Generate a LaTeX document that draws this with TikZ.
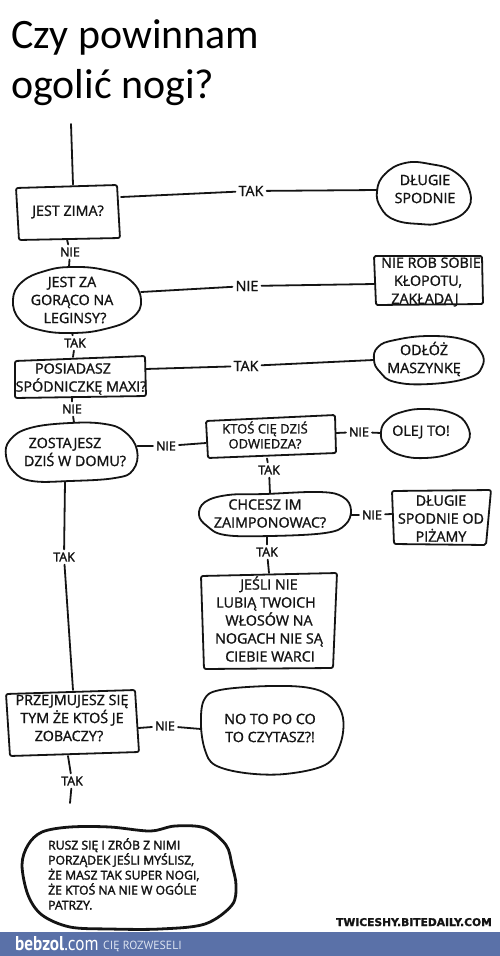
\documentclass[tikz,border=0pt]{standalone}
\usepackage{fontspec}
\setmainfont{Open Sans}
\newfontfamily\titlefont{Carlito}
\newfontfamily\heavyfont[FakeBold=1.3]{Open Sans}
\newfontfamily\heavierfont[FakeBold=2.2]{Open Sans}
\newfontfamily\wmfont[FakeBold=1.5]{DejaVu Sans}
\newfontfamily\barfont[FakeStretch=0.86]{PT Sans}
\newfontfamily\barplain{PT Sans}
\definecolor{ink}{HTML}{141414}
\definecolor{barblue}{HTML}{5A71A8}
\definecolor{barpale}{HTML}{DCE3F0}
\tikzset{
  x=1pt,y=-1pt,
  ink line/.style={draw=ink,line width=1.8pt,line cap=round,line join=round},
  outline/.style={ink line},
  blob/.style={ink line,line width=2.8pt},
  shapebox/.style={rectangle,inner sep=0pt,outer sep=0pt},
  txt/.style={text=ink,align=center,inner sep=0pt,font=\heavyfont\fontsize{14.3}{18}\selectfont},
  lbl/.style={text=ink,inner sep=3pt,font=\heavierfont\fontsize{12.4}{14}\selectfont},
  lblbig/.style={text=ink,inner sep=3pt,font=\heavyfont\fontsize{14.3}{14}\selectfont},
  small/.style={text=ink,align=left,inner sep=0pt,anchor=north west,font=\heavierfont\fontsize{12.2}{15}\selectfont},
  titletxt/.style={anchor=base west,inner sep=0pt,text=black,font=\titlefont\fontsize{41.9}{50}\selectfont},
}
\newcommand{\boxat}[5]{\node[shapebox,minimum width=#4pt,minimum height=#5pt] (#1) at (#2,#3) {};}
\begin{document}
\begin{tikzpicture}
\useasboundingbox (0,0) rectangle (500,956);
\fill[white] (0,0) rectangle (500,956);
% title
\node[titletxt] (t1) at (11,48) {Czy powinnam};
\node[titletxt] (t2) at (11,98) {ogolić nogi?};
% invisible anchors of the hand-drawn shapes
\boxat{zima}{69}{212}{104}{55}
\boxat{dlugie}{424}{193}{93}{61}
\boxat{goraco}{77}{300}{128}{66}
\boxat{klopot}{429}{280}{109}{49}
\boxat{maxi}{80}{377}{131}{42}
\boxat{odloz}{428}{360}{109}{48}
\boxat{dom}{72}{452}{131}{59}
\boxat{ktos}{271}{437}{130}{43}
\boxat{olej}{425}{433}{88}{49}
\boxat{chcesz}{275}{515}{152}{43}
\boxat{pizamy}{441}{517}{99}{55}
\boxat{warci}{269}{621}{136}{96}
\boxat{przej}{72}{723}{133}{66}
\boxat{czytasz}{272}{730}{142}{88}
\boxat{rusz}{129}{877}{214}{104}
\coordinate (start) at (71,124);
\coordinate (tailend) at (70,803);
% outlines
\draw[outline,rounded corners=2pt] (16,188)--(117,185)--(120,238)--(19,240)--cycle;
\draw[outline] plot[smooth cycle,tension=.75] coordinates {(405,163)(430,164)(455,172)(470,192)(465,212)(440,223)(420,224)(395,220)(381,208)(377,191)(385,174)};
\draw[outline] plot[smooth cycle,tension=.75] coordinates {(72,267)(105,270)(130,280)(141,300)(132,318)(105,329)(72,333)(40,330)(20,320)(13,300)(22,282)(45,271)};
\draw[outline,rounded corners=1.5pt] (374,256)--(482,256)--(483,304)--(376,305)--cycle;
\draw[outline,rounded corners=2pt] (15,361)--(145,356)--(146,396)--(15,398)--cycle;
\draw[outline] plot[smooth cycle,tension=.75] coordinates {(430,336)(465,340)(481,352)(482,367)(468,378)(430,384)(395,382)(380,372)(374,360)(378,347)(395,340)};
\draw[outline] plot[smooth cycle,tension=.7] coordinates {(70,423)(105,424)(125,432)(137,450)(133,470)(115,478)(70,481)(32,481)(14,472)(6,456)(10,440)(30,428)};
\draw[outline,rounded corners=1.5pt] (206,421)--(335,415)--(336,453)--(208,458)--cycle;
\draw[outline] plot[smooth cycle,tension=.75] coordinates {(425,409)(452,413)(467,425)(468,442)(452,453)(425,458)(400,455)(385,445)(381,432)(387,420)(402,412)};
\draw[outline] plot[smooth cycle,tension=.65] coordinates {(265,494)(320,492)(343,497)(351,510)(345,525)(325,533)(270,536)(225,535)(207,526)(199,515)(205,502)(228,495)};
\draw[outline,rounded corners=2pt] (392,491)--(491,490)--(486,545)--(394,544)--cycle;
\draw[outline,rounded corners=2pt] (201,576)--(337,573)--(333,668)--(204,669)--cycle;
\draw[outline,rounded corners=2pt] (6,694)--(135,690)--(139,752)--(10,756)--cycle;
\draw[outline] plot[smooth cycle,tension=.6] coordinates {(270,686)(310,688)(332,698)(343,718)(340,745)(325,765)(285,774)(245,773)(215,765)(205,750)(201,725)(204,700)(220,690)};
\draw[blob] plot[smooth cycle,tension=.55] coordinates {(70,827)(110,827)(150,831)(175,826)(205,828)(226,845)(232,865)(236,885)(232,905)(205,924)(160,929)(110,929)(70,927)(42,915)(28,895)(22,865)(28,845)(42,832)};
% labels
\node[lblbig] (l1) at (251,191) {TAK};
\node[lbl] (l2) at (70,252) {NIE};
\node[lblbig] (l3) at (247,286) {NIE};
\node[lbl] (l4) at (75,343) {TAK};
\node[lblbig] (l5) at (246,366) {TAK};
\node[lbl] (l6) at (72,409) {NIE};
\node[lbl] (l7) at (166,446) {NIE};
\node[lbl] (l8) at (359,432) {NIE};
\node[lbl] (l9) at (269,470) {TAK};
\node[lbl] (l10) at (372,515) {NIE};
\node[lbl] (l11) at (267,552) {TAK};
\node[lbl] (l12) at (64,557) {TAK};
\node[lbl] (l13) at (165,726) {NIE};
\node[lbl] (l14) at (72,781) {TAK};
% connectors
\draw[ink line] (start) -- ([xshift=4pt]zima.north);
\draw[ink line] ([yshift=15pt]zima.east) -- (l1); \draw[ink line] (l1) -- ([yshift=3pt]dlugie.west);
\draw[ink line] ([xshift=-2pt]zima.south) -- (l2); \draw[ink line] (l2) -- ([xshift=-8pt]goraco.north);
\draw[ink line] ([yshift=8pt]goraco.east) -- (l3); \draw[ink line] (l3) -- ([yshift=-4pt]klopot.west);
\draw[ink line] ([xshift=-5pt]goraco.south) -- (l4); \draw[ink line] (l4) -- ([xshift=-7pt,yshift=-1pt]maxi.north);
\draw[ink line] ([yshift=8pt]maxi.east) -- (l5); \draw[ink line] (l5) -- (odloz.west);
\draw[ink line] ([xshift=-8pt]maxi.south) -- (l6); \draw[ink line] (l6) -- ([xshift=2pt]dom.north);
\draw[ink line] ([yshift=6pt]dom.east) -- (l7); \draw[ink line] (l7) -- ([yshift=-6pt]ktos.west);
\draw[ink line] ([yshift=4pt]ktos.east) -- (l8); \draw[ink line] (l8) -- (olej.west);
\draw[ink line] ([xshift=-4pt]ktos.south) -- (l9); \draw[ink line] (l9) -- ([xshift=-5pt]chcesz.north);
\draw[ink line] (chcesz.east) -- (l10); \draw[ink line] (l10) -- ([yshift=3pt]pizamy.west);
\draw[ink line] ([xshift=-8pt]chcesz.south) -- (l11); \draw[ink line] (l11) -- (warci.north);
\draw[ink line] ([xshift=-7pt]dom.south) -- (l12); \draw[ink line] (l12) -- ([xshift=1pt]przej.north);
\draw[ink line] ([yshift=-5pt]przej.east) -- (l13); \draw[ink line] (l13) -- ([yshift=1pt]czytasz.west);
\draw[ink line] ([xshift=-4pt]przej.south) -- (l14); \draw[ink line] (l14) -- (tailend);
% texts
\node[txt] (tzima) at (68,212) {JEST ZIMA?};
\node[txt] (tdlugie) at (425,189) {DŁUGIE\\SPODNIE};
\node[txt] (tgoraco) at (72,300) {JEST ZA\\GORĄCO NA\\\hspace*{6pt}LEGINSY?};
\node[txt] (tklopot) at (428,282) {\hspace*{6pt}NIE ROB SOBIE\\KŁOPOTU,\\\hspace*{-6pt}ZAKŁADAJ};
\node[txt] (tmaxi) at (81,379) {\hspace*{-16pt}POSIADASZ\\SPÓDNICZKĘ MAXI?};
\node[txt] (todloz) at (424,359) {ODŁÓŻ\\MASZYNKĘ};
\node[txt] (tdom) at (75,452) {\hspace*{-20pt}ZOSTAJESZ\\DZIŚ W DOMU?};
\node[txt,font=\heavyfont\fontsize{13}{15}\selectfont] (tktos) at (265,435) {KTOŚ CIĘ DZIŚ\\ODWIEDZA?};
\node[txt] (tolej) at (421,432) {OLEJ TO!};
\node[txt] (tchcesz) at (270,513.5) {\hspace*{-10pt}CHCESZ IM\\ZAIMPONOWAC?};
\node[txt] (tpizamy) at (441,518.5) {DŁUGIE\\SPODNIE OD\\PIŻAMY};
\node[txt] (twarci) at (269,619) {JEŚLI NIE\\\hspace*{-6pt}LUBIĄ TWOICH\\WŁOSÓW NA\\NOGACH NIE SĄ\\\hspace*{2pt}CIEBIE WARCI};
\node[txt] (tprzej) at (72,718) {PRZEJMUJESZ SIĘ\\TYM ŻE KTOŚ JE\\\hspace*{-6pt}ZOBACZY?};
\node[txt] (tczytasz) at (270,728) {NO TO PO CO\\TO CZYTASZ?!};
\node[small] (trusz) at (48,838) {RUSZ SIĘ I ZRÓB Z NIMI\\PORZĄDEK JEŚLI MYŚLISZ,\\ŻE MASZ TAK SUPER NOGI,\\ŻE KTOŚ NA NIE W OGÓLE\\PATRZY.};
\node[anchor=base east,inner sep=0pt,text=ink,font=\wmfont\fontsize{10.7}{12}\selectfont\bfseries] (wm) at (492,926) {TWICESHY.BITEDAILY.COM};
% bottom bar
\fill[barblue] (0,932) rectangle (500,956);
\node[anchor=base west,inner sep=0pt,text=white,font=\barfont\fontsize{20}{24}\selectfont] (bz) at (15,950) {\textbf{bebzol}.com};
\node[anchor=base west,inner sep=0pt,text=barpale,font=\barplain\fontsize{11.8}{14}\selectfont] (bs) at (103,949) {CIĘ ROZWESELI};
\end{tikzpicture}
\end{document}
